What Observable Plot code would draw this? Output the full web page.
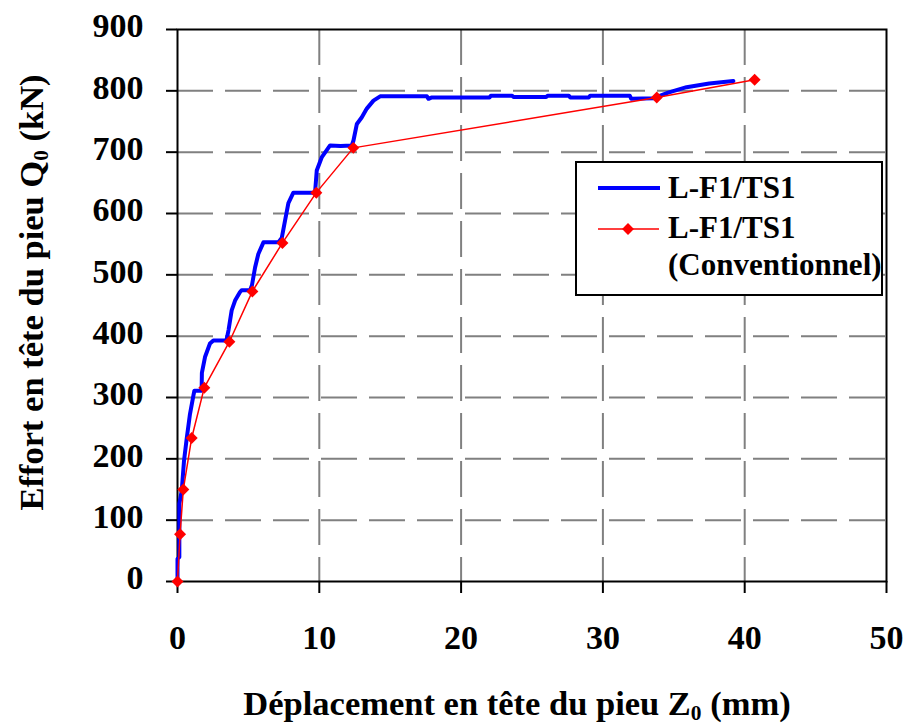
<!DOCTYPE html>
<html>
<head>
<meta charset="utf-8">
<script src="https://cdn.jsdelivr.net/npm/d3@7"></script>
<script src="https://cdn.jsdelivr.net/npm/@observablehq/plot@0.6"></script>
<style>
  body { margin: 0; background: #fff; }
  #wrap { position: relative; width: 905px; height: 725px; }
  #legend { position: absolute; left: 0; top: 0; }
</style>
</head>
<body>
<div id="wrap"></div>
<script>
// ---- data ----
const xTicks = [0, 10, 20, 30, 40, 50];
const yTicks = [0, 100, 200, 300, 400, 500, 600, 700, 800, 900];

// Conventional test (red, diamonds)
const convX = [0, 0.18, 0.41, 1.0, 1.89, 3.66, 5.28, 7.4, 9.79, 12.4, 33.8, 40.7];
const convY = [0, 77, 150, 234, 316, 391, 473, 552, 634, 707, 789, 818];

// Continuous measurement (blue)
const measX = [0, 0, 0.13, 0.13, 0.3, 0.46, 0.65, 0.88, 1.12, 1.19, 1.7, 1.72, 1.94, 2.29, 2.53, 3.45, 3.6, 3.82, 4.06, 4.41, 4.53, 5.12, 5.25, 5.47, 5.7, 6.06, 7.12, 7.35, 7.59, 7.82, 8.17, 9.7, 9.82, 10.18, 10.76, 11.5, 12.29, 12.41, 12.65, 13.0, 13.35, 13.82, 14.29, 17.59, 17.7, 17.9, 22.0, 22.1, 23.6, 23.7, 26.0, 26.1, 27.6, 27.7, 29.0, 29.1, 31.9, 32.0, 33.6, 34.6, 35.9, 37.5, 39.2];
const measY = [0, 37, 40, 127, 148, 197, 233, 273, 303, 311, 311, 340, 366, 388, 393, 393, 410, 442, 458, 472, 475, 475, 483, 512, 534, 553, 553, 560, 589, 617, 634, 634, 670, 692, 711, 710, 711, 719, 746, 757, 771, 784, 791, 791, 787, 789, 789, 792, 792, 790, 790, 792, 792, 789, 789, 792, 792, 787, 788, 797, 806, 812, 816];

const legendLabels = ["L-F1/TS1", "L-F1/TS1", "(Conventionnel)"];
const xTitleParts = ["Déplacement en tête du pieu Z", "0", " (mm)"];
const yTitleParts = ["Effort en tête du pieu Q", "0", " (kN)"];

// ---- build ----
const meas = measX.map((x, i) => ({x, y: measY[i]}));
const conv = convX.map((x, i) => ({x, y: convY[i]}));
const font = "'Liberation Serif', 'Times New Roman', serif";
const gridStyle = {stroke: "#808080", strokeOpacity: 1, strokeWidth: 2, strokeDasharray: "36,12"};

const chart = Plot.plot({
  width: 905,
  height: 725,
  marginLeft: 177,
  marginRight: 19,
  marginTop: 29,
  marginBottom: 144,
  style: {fontFamily: font, fontWeight: "bold", color: "black", background: "white", overflow: "visible"},
  x: {domain: [0, 50]},
  y: {domain: [0, 900]},
  marks: [
    Plot.gridX(xTicks.slice(1, -1), gridStyle),
    Plot.gridY(yTicks.slice(1, -1), gridStyle),
    Plot.frame({stroke: "black", strokeWidth: 2}),
    Plot.axisX(xTicks, {anchor: "bottom", tickSize: 12, tickPadding: 31, fontSize: 34, strokeWidth: 2, label: null}),
    Plot.axisY(yTicks, {anchor: "left", tickSize: 11, strokeWidth: 2, tickFormat: () => "", label: null}),
    Plot.axisY(yTicks, {anchor: "left", tickSize: 0, tickPadding: 34, fontSize: 34, dy: -3, label: null}),
    Plot.line(meas, {x: "x", y: "y", stroke: "#0000ff", strokeWidth: 4}),
    Plot.line(conv, {x: "x", y: "y", stroke: "#ff0000", strokeWidth: 1.5}),
    Plot.dot(conv, {x: "x", y: "y", symbol: "diamond2", r: 5.4, fill: "#ff0000", stroke: "none"}),
    Plot.text([xTitleParts.join("")], {frameAnchor: "bottom", lineAnchor: "middle", dy: 122, dx: -15, fontSize: 34.5, className: "xtitle"}),
    Plot.text([yTitleParts.join("")], {frameAnchor: "left", textAnchor: "middle", lineAnchor: "middle", dx: -146, dy: -13, rotate: -90, fontSize: 34.5, className: "ytitle"})
  ]
});

document.getElementById("wrap").appendChild(chart);

// subscripts in axis titles
function subscriptify(sel, parts) {
  d3.select(chart).selectAll(sel + " text").each(function() {
    const t = d3.select(this);
    t.text(null);
    t.append("tspan").text(parts[0]);
    t.append("tspan").attr("font-size", "0.62em").attr("dy", "0.25em").text(parts[1]);
    t.append("tspan").attr("dy", "-0.155em").text(parts[2]);
  });
}
subscriptify(".xtitle", xTitleParts);
subscriptify(".ytitle", yTitleParts);

// legend (HTML-positioned SVG box over the plot)
const lg = d3.select("#wrap").append("svg")
  .attr("id", "legend")
  .attr("width", 310).attr("height", 136)
  .style("left", "575px").style("top", "161px")
  .style("font-family", font).style("font-weight", "bold");
lg.append("rect").attr("x", 1).attr("y", 1).attr("width", 306).attr("height", 133)
  .attr("fill", "white").attr("stroke", "black").attr("stroke-width", 2);
lg.append("line").attr("x1", 23).attr("x2", 85).attr("y1", 27).attr("y2", 27)
  .attr("stroke", "#0000ff").attr("stroke-width", 4);
lg.append("text").attr("x", 93).attr("y", 37).attr("font-size", 31).text(legendLabels[0]);
lg.append("line").attr("x1", 23).attr("x2", 84).attr("y1", 68).attr("y2", 68)
  .attr("stroke", "#ff0000").attr("stroke-width", 1.5);
lg.append("path").attr("transform", "translate(53,68)")
  .attr("d", d3.symbol(d3.symbolDiamond2, 90)()).attr("fill", "#ff0000");
lg.append("text").attr("x", 93).attr("y", 77).attr("font-size", 31).text(legendLabels[1]);
lg.append("text").attr("x", 93).attr("y", 114).attr("font-size", 31).text(legendLabels[2]);
</script>
</body>
</html>
